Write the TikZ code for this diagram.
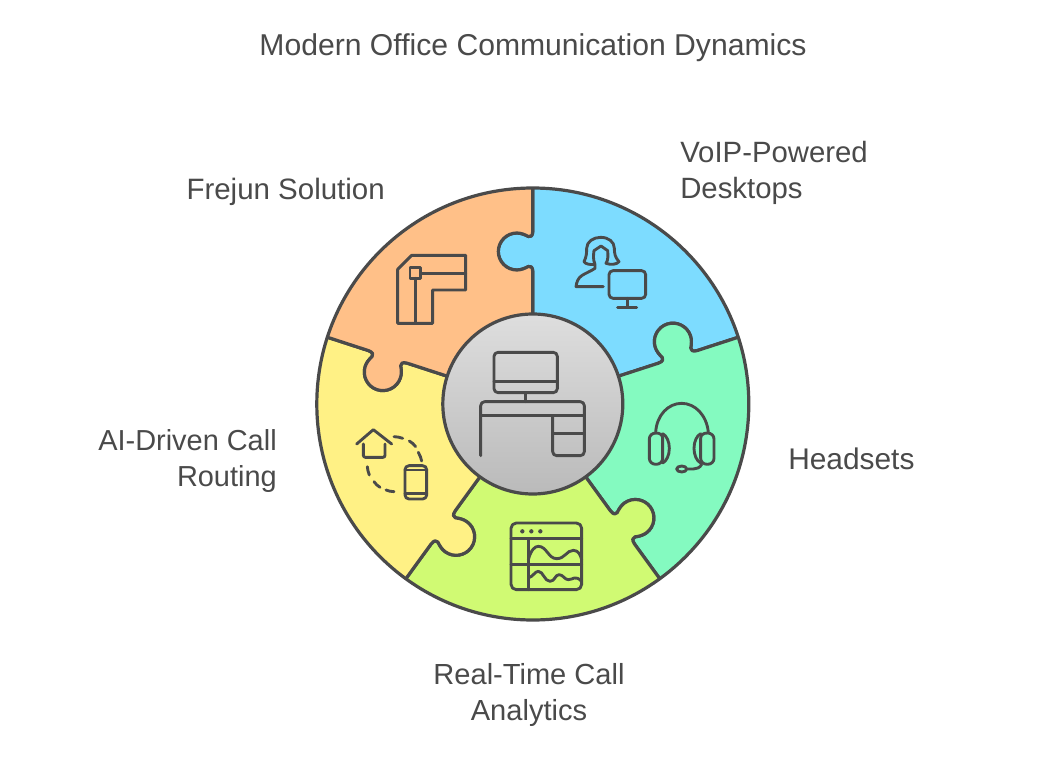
\documentclass[tikz,border=0pt]{standalone}
\usepackage{fontspec}
\setmainfont{Liberation Sans}
\definecolor{ink}{HTML}{4A4A4A}
\definecolor{cblue}{HTML}{7DDCFF}
\definecolor{cmint}{HTML}{84FAC0}
\definecolor{clime}{HTML}{D0FA73}
\definecolor{cyellow}{HTML}{FFF185}
\definecolor{corange}{HTML}{FFC088}
\tikzset{
  label text/.style={text=ink,inner sep=0pt},
  fs/.style={font=\fontsize{#1}{27}\selectfont},
  wedge/.style={draw=ink,line width=2.4pt,line join=round},
  icon/.style={draw=ink,line width=2.15pt,line cap=round,line join=round},
}
% boundary i from the rim to the centre, and back
\def\bdin#1{(b#1a) -- (b#1b) .. controls (b#1c) and (b#1d) .. (b#1e) .. controls (b#1f) and (b#1g) .. (b#1h) .. controls (b#1i) and (b#1j) .. (b#1k) .. controls (b#1l) and (b#1m) .. (b#1n) .. controls (b#1o) and (b#1p) .. (b#1q) .. controls (b#1r) and (b#1s) .. (b#1t) -- (b#1u)}
\def\bdout#1{(b#1u) -- (b#1t) .. controls (b#1s) and (b#1r) .. (b#1q) .. controls (b#1p) and (b#1o) .. (b#1n) .. controls (b#1m) and (b#1l) .. (b#1k) .. controls (b#1j) and (b#1i) .. (b#1h) .. controls (b#1g) and (b#1f) .. (b#1e) .. controls (b#1d) and (b#1c) .. (b#1b) -- (b#1a)}
\begin{document}
\begin{tikzpicture}[x=.75pt,y=-.75pt]
\path[use as bounding box,fill=white] (0,0) rectangle (1037,766);
\coordinate (ctr) at (532.8,404);
\foreach \i/\a in {1/90,2/18,3/-54,4/-126,5/-198,6/-270}{
  \begin{scope}[shift={(532.8,404)},rotate=\a,y=.75pt]
    \coordinate (b\i a) at (260,0);
    \coordinate (b\i b) at (173,0);
    \coordinate (b\i c) at (168,0);
    \coordinate (b\i d) at (166.5,2.5);
    \coordinate (b\i e) at (167.5,4.5);
    \coordinate (b\i f) at (169.5,8);
    \coordinate (b\i g) at (171,12);
    \coordinate (b\i h) at (171,16);
    \coordinate (b\i i) at (171,26.2);
    \coordinate (b\i j) at (162.7,34.5);
    \coordinate (b\i k) at (152.5,34.5);
    \coordinate (b\i l) at (142.3,34.5);
    \coordinate (b\i m) at (134,26.2);
    \coordinate (b\i n) at (134,16);
    \coordinate (b\i o) at (134,12);
    \coordinate (b\i p) at (135.5,8);
    \coordinate (b\i q) at (137.5,4.5);
    \coordinate (b\i r) at (138.5,2.5);
    \coordinate (b\i s) at (137,0);
    \coordinate (b\i t) at (132,0);
    \coordinate (b\i u) at (40,0);
    \coordinate (f\i) at (-36:420);
  \end{scope}
}
\begin{scope}
  \clip (ctr) circle[radius=216];
  \draw[wedge,fill=cblue]   \bdin{1} -- \bdout{2} -- (f1) -- cycle;
  \draw[wedge,fill=cmint]   \bdin{2} -- \bdout{3} -- (f2) -- cycle;
  \draw[wedge,fill=clime]   \bdin{3} -- \bdout{4} -- (f3) -- cycle;
  \draw[wedge,fill=cyellow] \bdin{4} -- \bdout{5} -- (f4) -- cycle;
  \draw[wedge,fill=corange] \bdin{5} -- \bdout{6} -- (f5) -- cycle;
\end{scope}
\draw[wedge] (ctr) circle[radius=216];
\shade[top color=black!13,bottom color=black!27] (ctr) circle[radius=90];
\draw[wedge] (ctr) circle[radius=90];

% orange: desk plan
\begin{scope}[shift={(320,180)},scale=1/3]
  \draw[icon] (275,226) -- (437,226) -- (437,330) -- (338,330) -- (338,430) -- (233,430) -- (233,268) -- cycle;
  \draw[icon] (270,263) rectangle (302,295);
  \draw[icon] (302,280) -- (437,280);
  \draw[icon] (286,295) -- (286,430);
\end{scope}
% blue: person and monitor
\begin{scope}[shift={(570,230)},scale=1/3]
  \draw[icon] (75,103) .. controls (60,105) and (46,102) .. (42,95) .. controls (50,80) and (50,65) .. (50,55) .. controls (50,35) and (70,22) .. (92,22) .. controls (115,22) and (133,35) .. (133,55) .. controls (133,70) and (135,82) .. (147,95) .. controls (140,104) and (122,105) .. (108,100) .. controls (115,90) and (114,75) .. (113,62) -- (93,48) -- (72,62) .. controls (70,75) and (69,90) .. (75,103) -- (75,115) .. controls (60,125) and (45,130) .. (35,137) .. controls (24,145) and (20,155) .. (18,170) -- (100,170);
  \draw[icon,rounded corners=3pt] (117,122) rectangle (227,205);
  \draw[icon] (172,205) -- (172,232);
  \draw[icon] (143,232) -- (200,232);
\end{scope}
% mint: headset
\begin{scope}[shift={(640,395)},scale=1/3]
  \draw[icon] (47,112) .. controls (50,60) and (85,25) .. (125,25) .. controls (165,25) and (200,60) .. (205,112);
  \draw[icon] (68,130) .. controls (68,120) and (60,114) .. (48,114) .. controls (36,114) and (28,122) .. (28,132) -- (28,190) .. controls (28,200) and (36,208) .. (48,208) .. controls (60,208) and (68,200) .. (68,190) -- cycle;
  \draw[icon] (68,116) .. controls (80,122) and (88,140) .. (88,160) .. controls (88,180) and (80,198) .. (68,204);
  \draw[icon] (182,130) .. controls (182,120) and (190,114) .. (202,114) .. controls (214,114) and (222,122) .. (222,132) -- (222,190) .. controls (222,200) and (214,208) .. (202,208) .. controls (190,208) and (182,200) .. (182,190) -- cycle;
  \draw[icon] (182,116) .. controls (170,122) and (162,140) .. (162,160) .. controls (162,180) and (170,198) .. (182,204);
  \draw[icon] (185,208) .. controls (180,218) and (170,222) .. (160,222) -- (140,222);
  \draw[icon] (125,222) ellipse[x radius=15,y radius=9];
\end{scope}
% lime: analytics window
\begin{scope}[shift={(505,518)},scale=1/3]
  \draw[icon,rounded corners=4pt] (18,15) rectangle (230,215);
  \draw[icon] (18,62) -- (230,62);
  \draw[icon] (18,140) -- (230,140);
  \draw[icon] (70,62) -- (70,215);
  \fill[ink] (52,40) circle[radius=6.5] (79,40) circle[radius=6.5] (106,40) circle[radius=6.5];
  \draw[icon] (70,125) .. controls (78,95) and (90,85) .. (100,85) .. controls (125,85) and (130,122) .. (155,122) .. controls (180,122) and (185,97) .. (205,97) .. controls (220,97) and (226,110) .. (230,125);
  \draw[icon] (70,180) .. controls (85,175) and (90,160) .. (100,160) .. controls (115,160) and (118,190) .. (135,190) .. controls (150,190) and (150,170) .. (162,170) .. controls (175,170) and (178,185) .. (190,185) .. controls (205,185) and (210,170) .. (230,190);
\end{scope}
% yellow: house and phone
\begin{scope}[shift={(350,425)},scale=1/3]
  \draw[icon] (20,57) -- (70,14) -- (125,57);
  \draw[icon,rounded corners=1.5pt] (40,57) -- (40,97) -- (105,97) -- (105,57);
  \draw[icon] (132,35) .. controls (140,35) and (150,37) .. (158,40);
  \draw[icon] (178,48) .. controls (185,52) and (192,58) .. (197,65);
  \draw[icon] (205,82) .. controls (210,90) and (213,100) .. (215,108);
  \draw[icon] (52,125) .. controls (52,133) and (55,142) .. (58,150);
  \draw[icon] (72,170) .. controls (77,177) and (83,183) .. (90,187);
  \draw[icon] (108,195) .. controls (115,198) and (124,200) .. (132,200);
  \draw[icon,rounded corners=3pt] (165,122) rectangle (230,222);
  \draw[icon] (165,135) -- (230,135);
  \draw[icon] (165,205) -- (230,205);
\end{scope}
% centre: desk with monitor
\begin{scope}[shift={(430,310)},scale=1/3]
  \draw[icon,rounded corners=3pt] (192,127) rectangle (382,248);
  \draw[icon] (192,215) -- (382,215);
  \draw[icon] (287,248) -- (287,275);
  \draw[icon,rounded corners=3pt] (152,437) -- (152,275) -- (463,275) -- (463,437) -- (368,437) -- (368,317);
  \draw[icon] (152,317) -- (463,317);
  \draw[icon] (368,370) -- (463,370);
\end{scope}

\node[label text,fs=22.6,anchor=center] (title) at (533,47.5) {Modern Office Communication Dynamics};
\node[label text,fs=22,anchor=west,align=left] (voip) at (680,173) {VoIP-Powered\\Desktops};
\node[label text,fs=22.1,anchor=east,align=right] (frejun) at (385,191.5) {Frejun Solution};
\node[label text,fs=22.4,anchor=west,align=left] (headsets) at (788,459) {Headsets};
\node[label text,fs=21.7,anchor=east,align=right] (aidriven) at (277,461.5) {AI-Driven Call\\Routing};
\node[label text,fs=21.8,anchor=center,align=center] (realtime) at (529,695) {Real-Time Call\\Analytics};
\end{tikzpicture}
\end{document}
